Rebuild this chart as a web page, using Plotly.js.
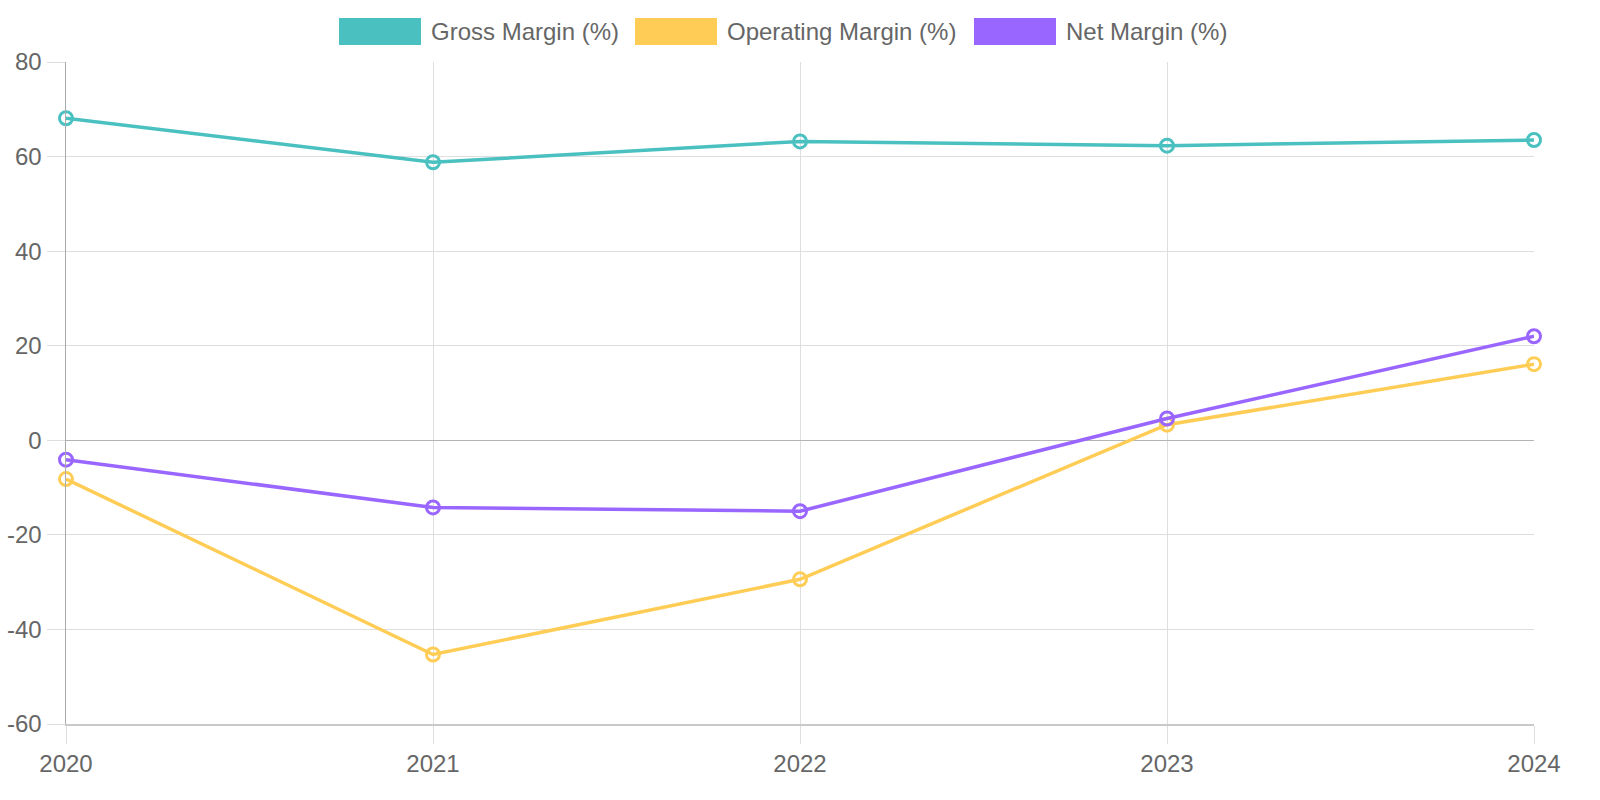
<!DOCTYPE html>
<html>
<head>
<meta charset="utf-8">
<script src="https://cdn.plot.ly/plotly-3.0.1.min.js"></script>
<style>
  html, body { margin: 0; padding: 0; background: #fff; }
  #chart { width: 1600px; height: 800px; }
</style>
</head>
<body>
<div id="chart"></div>
<script>
// ---- data ----
const years = [2020, 2021, 2022, 2023, 2024];
const grossMargin = [68.1, 58.8, 63.2, 62.3, 63.5];
const operatingMargin = [-8.2, -45.3, -29.4, 3.3, 16.1];
const netMargin = [-4.1, -14.2, -15.0, 4.6, 22.0];
const seriesNames = ['Gross Margin (%)', 'Operating Margin (%)', 'Net Margin (%)'];
const seriesColors = ['#4BC0C0', '#FFCD56', '#9966FF'];
const seriesValues = [grossMargin, operatingMargin, netMargin];
const yTickVals = [-60, -40, -20, 0, 20, 40, 60, 80];
const yTickText = ['-60', '-40', '-20', '0', '20', '40', '60', '80'];
const xTickText = ['2020', '2021', '2022', '2023', '2024'];

// ---- layout constants ----
const W = 1600, H = 800;
const M = { l: 66, r: 66, t: 62, b: 76 };
const plotW = W - M.l - M.r, plotH = H - M.t - M.b;
const px2x = p => (p - M.l) / plotW;
const px2y = p => (H - M.b - p) / plotH;

const traces = seriesValues.map((vals, i) => ({
  type: 'scatter',
  mode: 'lines+markers',
  x: years,
  y: vals,
  name: seriesNames[i],
  showlegend: false,
  cliponaxis: false,
  line: { color: seriesColors[i], width: 3.5 },
  marker: { symbol: 'circle-open', size: 13, color: seriesColors[i], line: { width: 3, color: seriesColors[i] } },
  hoverinfo: 'x+y+name'
}));

// custom legend (Chart.js style rectangles)
const legendSwatchLeft = [339, 635, 974];
const swatchW = 82, swatchTop = 18, swatchBot = 45;
const shapes = [];
const annotations = [];
seriesNames.forEach((name, i) => {
  shapes.push({
    type: 'rect', xref: 'paper', yref: 'paper',
    x0: px2x(legendSwatchLeft[i]), x1: px2x(legendSwatchLeft[i] + swatchW),
    y0: px2y(swatchBot), y1: px2y(swatchTop),
    fillcolor: seriesColors[i], line: { width: 0 }
  });
  annotations.push({
    xref: 'paper', yref: 'paper',
    x: px2x(legendSwatchLeft[i] + swatchW + 8), y: px2y(31.5),
    xanchor: 'left', yanchor: 'middle', showarrow: false,
    text: name,
    font: { family: 'Liberation Sans, Arial, sans-serif', size: 24, color: '#666' }
  });
});

const layout = {
  width: W, height: H,
  margin: M,
  paper_bgcolor: '#fff',
  plot_bgcolor: '#fff',
  font: { family: 'Liberation Sans, Arial, sans-serif', size: 24, color: '#666' },
  showlegend: false,
  xaxis: {
    range: [2020, 2024],
    tickmode: 'array',
    tickvals: years,
    ticktext: xTickText,
    showgrid: true, gridcolor: '#dedede', gridwidth: 1,
    zeroline: false,
    showline: true, linecolor: '#c9c9c9', linewidth: 1.5,
    ticks: 'outside', ticklen: 18, tickcolor: '#dedede', tickwidth: 1,
    tickfont: { size: 24, color: '#666' }
  },
  yaxis: {
    range: [-60, 80],
    tickmode: 'array',
    tickvals: yTickVals,
    ticktext: yTickText,
    showgrid: true, gridcolor: '#dedede', gridwidth: 1,
    zeroline: true, zerolinecolor: '#b4b4b4', zerolinewidth: 1.5,
    showline: true, linecolor: '#aaaaaa', linewidth: 1.5,
    ticks: 'outside', ticklen: 18, tickcolor: '#dedede', tickwidth: 1,
    tickfont: { size: 24, color: '#666' }
  },
  shapes: shapes,
  annotations: annotations
};

Plotly.newPlot('chart', traces, layout, { displayModeBar: false, staticPlot: true });
</script>
</body>
</html>
